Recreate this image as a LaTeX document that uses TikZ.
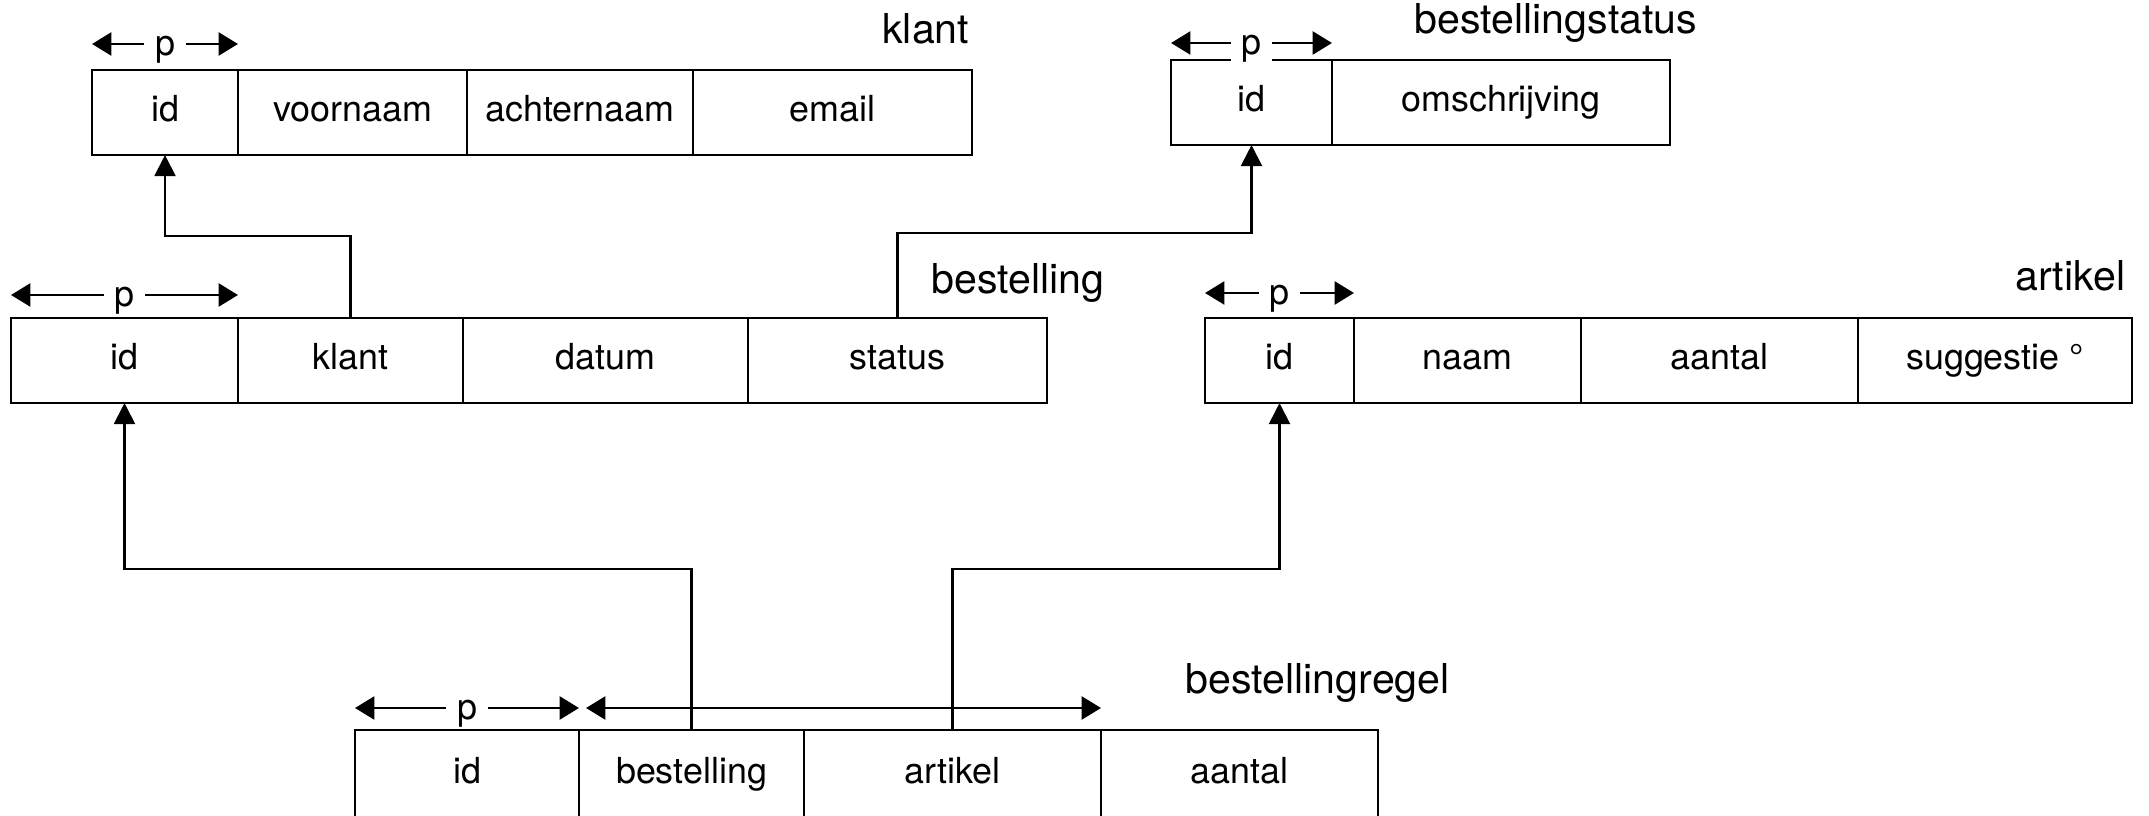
\documentclass[tikz,border=0pt]{standalone}
\usepackage{fontspec}
\setmainfont{TeX Gyre Heros}
\usetikzlibrary{positioning,arrows.meta}

\begin{document}
\begin{tikzpicture}[x=0.01cm, y=-0.01cm,
    cell/.style={rectangle, draw, line width=0.8pt, outer sep=0pt, inner sep=0pt, minimum height=0.85cm, minimum width=#1*0.01cm, text height=7.2pt, text depth=2pt, font=\fontsize{10.2}{12}\selectfont},
    title/.style={font=\fontsize{11.7}{14}\selectfont, inner sep=0pt},
    pk/.style={{Triangle[length=5.5pt,width=6.5pt]}-{Triangle[length=5.5pt,width=6.5pt]}, line width=0.8pt},
    fk/.style={-{Triangle[length=6pt,width=6pt]}, line width=0.6pt},
    plabel/.style={midway, fill=white, inner xsep=3pt, inner ysep=0pt, yshift=-1.5pt, font=\fontsize{10.2}{12}\selectfont}
]
\useasboundingbox (0,0) rectangle (2149,815);
\clip (0,0) rectangle (2149,815);

% klant
\node[cell=146, anchor=north west] (klantid) at (92,70) {id};
\node[cell=229, right=0pt of klantid] (klantvoornaam) {voornaam};
\node[cell=226, right=0pt of klantvoornaam] (klantachternaam) {achternaam};
\node[cell=279, right=0pt of klantachternaam] (klantemail) {email};
\node[title, anchor=base east] (klanttitle) at (970,44) {klant};

% bestellingstatus
\node[cell=161, anchor=north west] (statusid) at (1171,60) {id};
\node[cell=338, right=0pt of statusid] (statusomschr) {omschrijving};
\node[title, anchor=base west] (statustitle) at (1414,34) {bestellingstatus};

% bestelling
\node[cell=227, anchor=north west] (bestid) at (11,318) {id};
\node[cell=225, right=0pt of bestid] (bestklant) {klant};
\node[cell=285, right=0pt of bestklant] (bestdatum) {datum};
\node[cell=299, right=0pt of bestdatum] (beststatus) {status};
\node[title, anchor=base west] (besttitle) at (931,293) {bestelling};

% artikel
\node[cell=149, anchor=north west] (artid) at (1205,318) {id};
\node[cell=227, right=0pt of artid] (artnaam) {naam};
\node[cell=277, right=0pt of artnaam] (artaantal) {aantal};
\node[cell=274, right=0pt of artaantal] (artsuggestie) {suggestie \textdegree};
\node[title, anchor=base east] (arttitle) at (2126,290) {artikel};

% bestellingregel
\node[cell=224, minimum height=0.88cm, anchor=north west] (regelid) at (355,730) {id};
\node[cell=225, minimum height=0.88cm, right=0pt of regelid] (regelbest) {bestelling};
\node[cell=297, minimum height=0.88cm, right=0pt of regelbest] (regelart) {artikel};
\node[cell=277, minimum height=0.88cm, right=0pt of regelart] (regelaantal) {aantal};
\node[title, anchor=base west] (regeltitle) at (1185,693) {bestellingregel};

% primary keys
\draw[pk] ([yshift=0.26cm]klantid.north west) -- ([yshift=0.26cm]klantid.north east) node[plabel] {p};
\draw[pk] ([yshift=0.17cm]statusid.north west) -- ([yshift=0.17cm]statusid.north east) node[plabel] {p};
\draw[pk] ([yshift=0.23cm]bestid.north west) -- ([yshift=0.23cm]bestid.north east) node[plabel] {p};
\draw[pk] ([yshift=0.25cm]artid.north west) -- ([yshift=0.25cm]artid.north east) node[plabel] {p};
\draw[pk] ([yshift=0.22cm]regelid.north west) -- ([yshift=0.22cm]regelid.north east) node[plabel] {p};
\draw[pk] ([xshift=0.07cm, yshift=0.22cm]regelbest.north west) -- ([yshift=0.22cm]regelart.north east);

% foreign keys
\draw[fk] (bestklant.north) -- ++(0,-82) -| (klantid.south);
\draw[fk] (beststatus.north) -- ++(0,-85) -| (statusid.south);
\draw[fk] (regelbest.north) -- ++(0,-161) -| (bestid.south);
\draw[fk] (regelart.north) -- ++(0,-161) -| (artid.south);

\end{tikzpicture}
\end{document}
